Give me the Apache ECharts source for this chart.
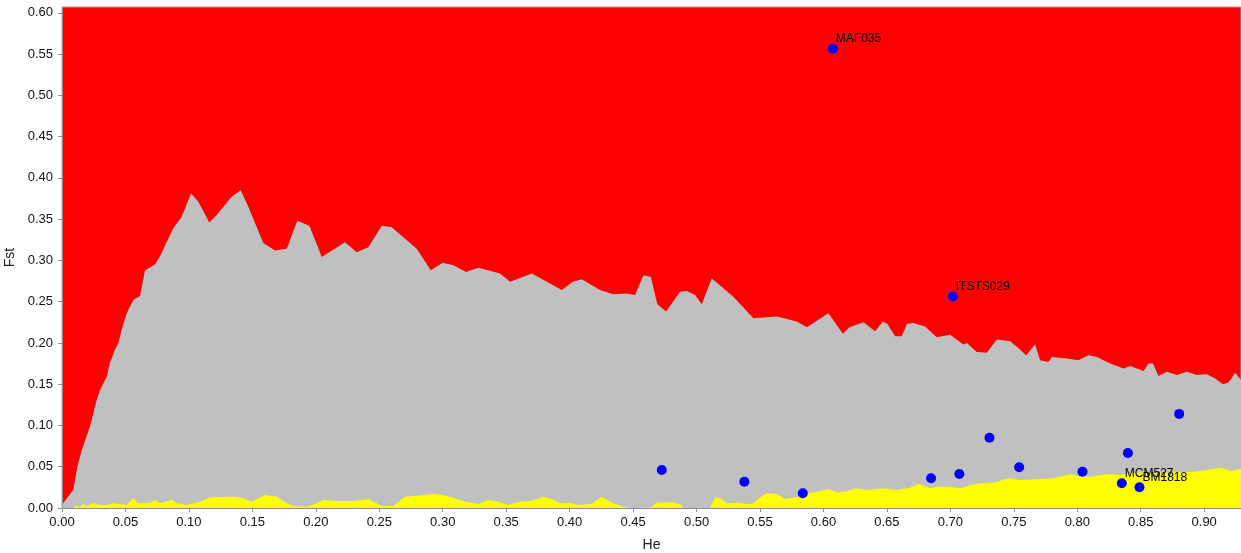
<!DOCTYPE html>
<html>
<head>
<meta charset="utf-8">
<title>Fst vs He outlier plot</title>
<script src="https://cdn.jsdelivr.net/npm/echarts@6/dist/echarts.min.js"></script>
<style>
  html, body { margin: 0; padding: 0; background: #ffffff; }
  #chart { width: 1241px; height: 553px; }
</style>
</head>
<body>
<div id="chart"></div>
<script>
// Upper confidence limit of simulated Fst against heterozygosity (top of the grey band)
const upperLimit = [
  [0, 0], [0.001, 0.006], [0.0089, 0.022], [0.0121, 0.050], [0.0155, 0.070], [0.0221, 0.099],
  [0.026, 0.123], [0.0273, 0.131], [0.030, 0.143], [0.0352, 0.159], [0.0378, 0.176], [0.0418, 0.192],
  [0.0444, 0.200], [0.047, 0.216], [0.051, 0.236], [0.0562, 0.252], [0.0615, 0.257], [0.0654, 0.288],
  [0.0733, 0.295], [0.0772, 0.305], [0.0877, 0.339], [0.0943, 0.353], [0.1017, 0.381], [0.1074, 0.371],
  [0.1161, 0.346], [0.1219, 0.355], [0.1337, 0.377], [0.1408, 0.385], [0.1468, 0.365], [0.1586, 0.321],
  [0.1679, 0.312], [0.1771, 0.314], [0.1854, 0.348], [0.1949, 0.342], [0.2047, 0.304], [0.223, 0.322],
  [0.2322, 0.310], [0.2414, 0.316], [0.252, 0.342], [0.2598, 0.340], [0.269, 0.328], [0.2795, 0.314],
  [0.2906, 0.288], [0.300, 0.297], [0.3084, 0.294], [0.3184, 0.286], [0.3281, 0.291], [0.3452, 0.284],
  [0.3531, 0.274], [0.3702, 0.284], [0.382, 0.274], [0.3938, 0.264], [0.4025, 0.274], [0.4096, 0.277],
  [0.424, 0.264], [0.4345, 0.259], [0.445, 0.260], [0.4516, 0.258], [0.4581, 0.282], [0.464, 0.280],
  [0.4691, 0.247], [0.476, 0.238], [0.487, 0.262], [0.4923, 0.263], [0.4989, 0.258], [0.5041, 0.247],
  [0.512, 0.278], [0.529, 0.256], [0.5448, 0.230], [0.5632, 0.232], [0.579, 0.226], [0.5869, 0.219],
  [0.6039, 0.236], [0.6153, 0.211], [0.6205, 0.219], [0.6315, 0.225], [0.6407, 0.214], [0.6468, 0.226],
  [0.6504, 0.223], [0.6565, 0.208], [0.6617, 0.208], [0.6657, 0.223], [0.6709, 0.224], [0.6801, 0.220],
  [0.6893, 0.207], [0.6998, 0.210], [0.7103, 0.198], [0.713, 0.200], [0.7208, 0.189], [0.7287, 0.188],
  [0.7366, 0.204], [0.7471, 0.202], [0.7536, 0.194], [0.7597, 0.185], [0.7668, 0.198], [0.7707, 0.179],
  [0.7773, 0.177], [0.780, 0.183], [0.7918, 0.181], [0.8009, 0.179], [0.8088, 0.185], [0.8154, 0.183],
  [0.8259, 0.175], [0.8364, 0.169], [0.8417, 0.172], [0.8522, 0.166], [0.8561, 0.175], [0.8596, 0.175],
  [0.864, 0.160], [0.8706, 0.165], [0.8785, 0.161], [0.8863, 0.165], [0.8942, 0.161], [0.9021, 0.162],
  [0.9087, 0.157], [0.9147, 0.150], [0.9192, 0.152], [0.9244, 0.164], [0.9291, 0.155]
];

// Lower confidence limit (top of the yellow band)
const lowerLimit = [
  [0, 0], [0.0095, 0], [0.011, 0.003], [0.0142, 0.001], [0.0168, 0.0057], [0.0189, 0.002],
  [0.0244, 0.006], [0.030, 0.004], [0.0352, 0.0036], [0.0404, 0.0057], [0.051, 0.0036], [0.0562, 0.0117],
  [0.0601, 0.0057], [0.0694, 0.0064], [0.0733, 0.0097], [0.0772, 0.0057], [0.0865, 0.0097], [0.0904, 0.0057],
  [0.0983, 0.0036], [0.1088, 0.0077], [0.1166, 0.0129], [0.135, 0.0137], [0.1416, 0.0125], [0.1495, 0.0077],
  [0.160, 0.0158], [0.1692, 0.0137], [0.1771, 0.0057], [0.1823, 0.0024], [0.1928, 0.0016], [0.1994, 0.0048],
  [0.2059, 0.0097], [0.2165, 0.0085], [0.2309, 0.0085], [0.2414, 0.0106], [0.2493, 0.0048], [0.252, 0.0024],
  [0.2611, 0.0024], [0.2703, 0.0137], [0.2861, 0.0158], [0.2926, 0.0170], [0.2992, 0.0162], [0.3097, 0.0117],
  [0.3176, 0.0076], [0.3281, 0.0048], [0.336, 0.0097], [0.3438, 0.0076], [0.3517, 0.0036], [0.3596, 0.0076],
  [0.3702, 0.0089], [0.3793, 0.0137], [0.3859, 0.0105], [0.3925, 0.0057], [0.4003, 0.0064], [0.4069, 0.0036],
  [0.4174, 0.0048], [0.4253, 0.0137], [0.4332, 0.0064], [0.4384, 0.0036], [0.4423, 0.0016], [0.449, 0],
  [0.4647, 0.001], [0.4687, 0.0065], [0.4805, 0.007], [0.487, 0.0045], [0.4896, 0], [0.5107, 0],
  [0.5146, 0.013], [0.5186, 0.0117], [0.5238, 0.0057], [0.5343, 0.0064], [0.5396, 0.0045], [0.5448, 0.0057],
  [0.5501, 0.013], [0.5554, 0.0178], [0.5632, 0.0170], [0.5698, 0.0109], [0.575, 0.0125], [0.5803, 0.0137],
  [0.5881, 0.0178], [0.5948, 0.0198], [0.6039, 0.0230], [0.6105, 0.0190], [0.6171, 0.0198], [0.625, 0.0238],
  [0.6342, 0.0218], [0.6473, 0.0238], [0.6578, 0.0218], [0.6683, 0.0246], [0.6748, 0.0291], [0.6841, 0.0238],
  [0.6893, 0.0258], [0.6998, 0.0258], [0.7077, 0.0238], [0.7182, 0.0287], [0.7261, 0.0299], [0.7353, 0.0311],
  [0.7458, 0.0360], [0.755, 0.0339], [0.7681, 0.0347], [0.7812, 0.0360], [0.7944, 0.0408], [0.7996, 0.0392],
  [0.8101, 0.038], [0.8233, 0.0408], [0.8338, 0.040], [0.8417, 0.042], [0.8522, 0.0432], [0.8627, 0.042],
  [0.8758, 0.0432], [0.8916, 0.044], [0.9021, 0.0461], [0.9139, 0.0489], [0.9205, 0.0448], [0.9291, 0.0473]
];

// Observed loci: heterozygosity, Fst, locus name (named ones are labelled)
const lociHe   = [0.6074, 0.7019, 0.4726, 0.5377, 0.5837, 0.6848, 0.7071, 0.7308, 0.7542, 0.8041, 0.8351, 0.8399, 0.8490, 0.8803];
const lociFst  = [0.5564, 0.2562, 0.0461, 0.0319, 0.0178, 0.0360, 0.0412, 0.0852, 0.0493, 0.0440, 0.0300, 0.0667, 0.0251, 0.1140];
const lociName = ['MAF035', 'ITSTS029', '', '', '', '', '', '', '', '', 'MCM527', '', 'BM1818', ''];

// Axis ranges and tick spacing
const heMax = 0.929;
const fstMax = 0.607;
const tickStep = 0.05;

const FONT = '"Liberation Sans", Arial, sans-serif';

const lociData = lociHe.map((he, i) => ({
  value: [he, lociFst[i]],
  name: lociName[i],
  label: { show: lociName[i] !== '' }
}));

const chart = echarts.init(document.getElementById('chart'), null, { renderer: 'canvas' });

chart.setOption({
  animation: false,
  backgroundColor: '#ffffff',
  grid: {
    left: 62, right: 0, top: 7, bottom: 45,
    containLabel: false,
    outerBoundsMode: 'none',
    show: true,
    backgroundColor: '#ff0000',
    borderColor: '#a0a0a0',
    borderWidth: 1
  },
  xAxis: {
    type: 'value',
    min: 0, max: heMax, interval: tickStep,
    name: 'He',
    nameLocation: 'middle',
    nameGap: 30,
    nameTextStyle: { color: '#222', fontSize: 14, fontFamily: FONT },
    axisLine: { show: true, lineStyle: { color: '#909090', width: 1 } },
    axisTick: { show: true, length: 4, lineStyle: { color: '#909090' } },
    axisLabel: {
      color: '#111', fontSize: 13, fontFamily: FONT, margin: 8,
      showMaxLabel: false,
      formatter: v => v.toFixed(2)
    },
    splitLine: { show: false }
  },
  yAxis: {
    type: 'value',
    min: 0, max: fstMax, interval: tickStep,
    name: 'Fst',
    nameLocation: 'middle',
    nameGap: 41,
    nameTextStyle: { color: '#222', fontSize: 14, fontFamily: FONT },
    axisLine: { show: true, lineStyle: { color: '#909090', width: 1 } },
    axisTick: { show: true, length: 4, lineStyle: { color: '#909090' } },
    axisLabel: {
      color: '#111', fontSize: 13, fontFamily: FONT, margin: 9,
      showMaxLabel: false,
      formatter: v => v.toFixed(2)
    },
    splitLine: { show: false }
  },
  series: [
    {
      name: 'upper',
      type: 'line',
      data: upperLimit,
      showSymbol: false,
      smooth: false,
      lineStyle: { width: 0 },
      areaStyle: { color: '#c0c0c0', opacity: 1 },
      silent: true,
      z: 1
    },
    {
      name: 'lower',
      type: 'line',
      data: lowerLimit,
      showSymbol: false,
      smooth: false,
      lineStyle: { width: 0 },
      areaStyle: { color: '#ffff00', opacity: 1 },
      silent: true,
      z: 2
    },
    {
      name: 'loci',
      type: 'scatter',
      data: lociData,
      symbol: 'circle',
      symbolSize: 10,
      itemStyle: { color: '#0000ff', opacity: 1 },
      label: {
        position: [8, -5],
        align: 'left',
        verticalAlign: 'middle',
        color: '#000',
        fontSize: 12,
        fontFamily: FONT,
        formatter: p => p.name
      },
      z: 3
    }
  ]
});
</script>
</body>
</html>
